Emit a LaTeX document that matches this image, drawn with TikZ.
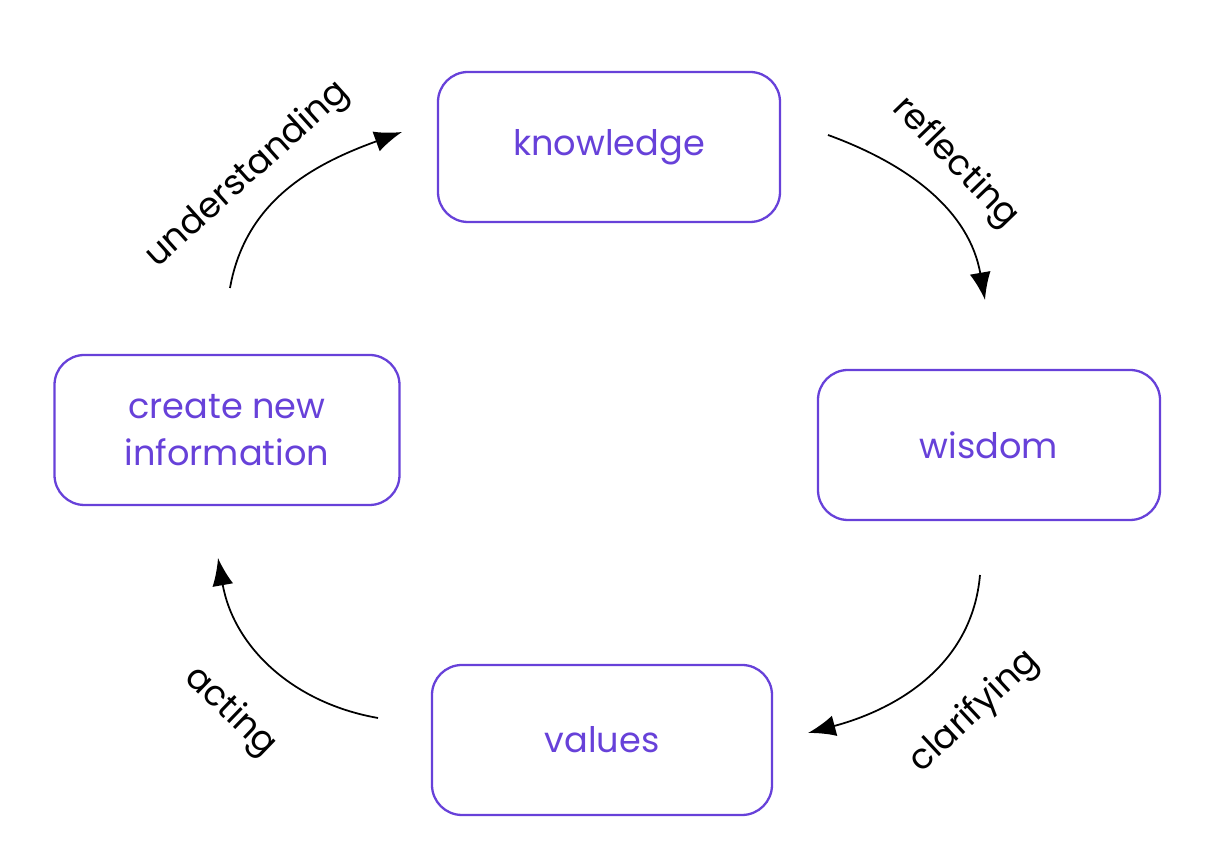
\documentclass[tikz,border=0pt]{standalone}
\usepackage{fontspec}
\setmainfont{Poppins}
\usepackage{xcolor}
\usetikzlibrary{arrows.meta}
\definecolor{inkviolet}{HTML}{6741D9}

\begin{document}
\begin{tikzpicture}[
  stage/.style={draw=inkviolet, text=inkviolet, line width=1.3pt, rounded corners=0.6cm, align=center, minimum width=6.84cm, minimum height=3cm, font=\fontsize{20}{27}\selectfont},
  flow/.style={-{Latex[length=5.5mm, width=4.2mm]}, line width=1pt},
  verb/.style={font=\fontsize{20}{24}\selectfont}
]
\useasboundingbox (0,0) rectangle (24.32,17.32);
\node[stage] (know) at (12.18,14.38) {knowledge};
\node[stage] (wis) at (19.78,8.42) {wisdom};
\node[stage, minimum width=6.8cm] (val) at (12.04,2.52) {values};
\node[stage, minimum width=6.9cm] (info) at (4.54,8.72) {create new\\information};
% arrow ends
\coordinate (u0) at (4.6,11.56);
\coordinate (u1) at (8.04,14.68);
\coordinate (r0) at (16.56,14.62);
\coordinate (r1) at (19.7,11.32);
\coordinate (c0) at (19.6,5.82);
\coordinate (c1) at (16.16,2.66);
\coordinate (a0) at (7.56,2.96);
\coordinate (a1) at (4.36,6.16);
\draw[flow] (u0) to[out=80, in=200] (u1);
\draw[flow] (r0) to[out=-20, in=100] (r1);
\draw[flow] (c0) to[out=-95, in=15] (c1);
\draw[flow] (a0) to[out=170, in=-80] (a1);
\node[verb, rotate=42] (under) at (4.96,13.82) {understanding};
\node[verb, rotate=-46] (refl) at (19.1,14.06) {reflecting};
\node[verb, rotate=43] (clar) at (19.5,3.08) {clarifying};
\node[verb, rotate=-44] (act) at (4.6,3.08) {acting};
\end{tikzpicture}
\end{document}
